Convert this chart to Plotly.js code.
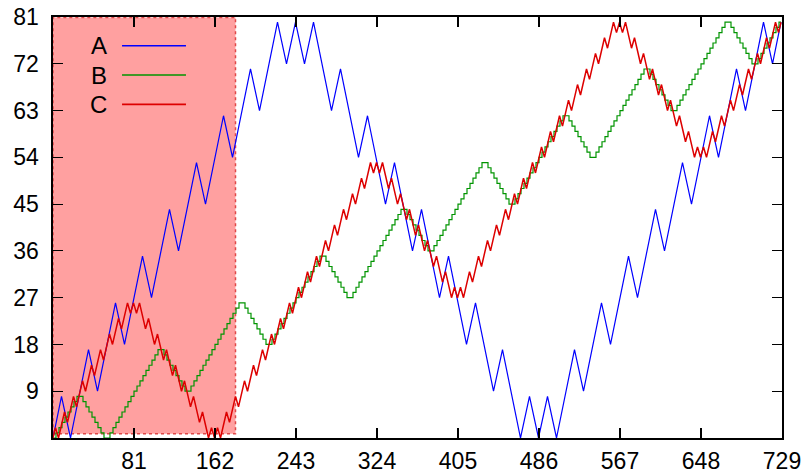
<!DOCTYPE html>
<html>
<head>
<meta charset="utf-8">
<script src="https://cdn.plot.ly/plotly-3.0.1.min.js"></script>
<style>html,body{margin:0;padding:0;background:#fff;}#chart{width:812px;height:474px;}</style>
</head>
<body>
<div id="chart"></div>
<script>
// ---- data ----
const seriesNames = ['A', 'B', 'C'];

// A: turning points
const A_x = [0, 8.5, 17.5, 35.5, 44.5, 62.5, 71.5, 89.5, 98.5, 116.5, 125.5, 143.5, 152.5, 170.5, 179.5, 197.5, 206.5, 224.5, 233.5, 242.5,
  251.5, 260.5, 278.5, 287.5, 305.5, 314.5, 332.5, 341.5, 359.5, 368.5, 386.5, 395.5, 413.5, 422.5, 440.5, 449.5, 467.5, 476.5, 485.5,
  494.5, 503.5, 521.5, 530.5, 548.5, 557.5, 575.5, 584.5, 602.5, 611.5, 629.5, 638.5, 656.5, 665.5, 683.5, 692.5, 710.5, 719.5, 728];
const A_y = [0, 8, 0, 17, 9, 26, 18, 35, 27, 44, 36, 53, 45, 62, 54, 71, 63, 80, 72, 80,
  72, 80, 63, 71, 54, 62, 45, 53, 36, 44, 27, 35, 18, 26, 9, 17, 0, 8, 0,
  8, 0, 17, 9, 26, 18, 35, 27, 44, 36, 53, 45, 62, 54, 71, 63, 80, 72, 80];

// B: staircase levels
const B_x = [0,3,6,9,12,15,18,21,24,27,30,33,36,39,42,45,48,51,54,57,60,63,66,69,72,75,78,
  81,84,87,90,93,96,99,102,105,108,111,114,117,120,123,126,129,132,135,138,141,144,147,150,153,156,159,
  162,165,168,171,174,177,180,183,186,189,192,195,198,201,204,207,210,213,216,219,222,225,228,231,234,237,240,
  243,246,249,252,255,258,261,264,267,270,273,276,279,282,285,288,291,294,297,300,303,306,309,312,315,318,321,
  324,327,330,333,336,339,342,345,348,351,354,357,360,363,366,369,372,375,378,381,384,387,390,393,396,399,402,
  405,408,411,414,417,420,423,426,429,432,435,438,441,444,447,450,453,456,459,462,465,468,471,474,477,480,483,
  486,489,492,495,498,501,504,507,510,513,516,519,522,525,528,531,534,537,540,543,546,549,552,555,558,561,564,
  567,570,573,576,579,582,585,588,591,594,597,600,603,606,609,612,615,618,621,624,627,630,633,636,639,642,645,
  648,651,654,657,660,663,666,669,672,675,678,681,684,687,690,693,696,699,702,705,708,711,714,717,720,723,726,
  728];
const B_y = [0,1,2,3,4,5,6,7,8, 8,7,6,5,4,3,2,1,0, 0,1,2,3,4,5,6,7,8,
  9,10,11,12,13,14,15,16,17, 17,16,15,14,13,12,11,10,9, 9,10,11,12,13,14,15,16,17,
  18,19,20,21,22,23,24,25,26, 26,25,24,23,22,21,20,19,18, 18,19,20,21,22,23,24,25,26,
  27,28,29,30,31,32,33,34,35, 35,34,33,32,31,30,29,28,27, 27,28,29,30,31,32,33,34,35,
  36,37,38,39,40,41,42,43,44, 44,43,42,41,40,39,38,37,36, 36,37,38,39,40,41,42,43,44,
  45,46,47,48,49,50,51,52,53, 53,52,51,50,49,48,47,46,45, 45,46,47,48,49,50,51,52,53,
  54,55,56,57,58,59,60,61,62, 62,61,60,59,58,57,56,55,54, 54,55,56,57,58,59,60,61,62,
  63,64,65,66,67,68,69,70,71, 71,70,69,68,67,66,65,64,63, 63,64,65,66,67,68,69,70,71,
  72,73,74,75,76,77,78,79,80, 80,79,78,77,76,75,74,73,72, 72,73,74,75,76,77,78,79,80,
  80];

// C: turning points of the wiggly line
const C_x = [0,
  2.5,5.5, 11.5,14.5, 20.5,23.5, 29.5,32.5, 38.5,41.5, 47.5,50.5, 56.5,59.5, 65.5,68.5, 74.5,77.5, 80.5,
  83.5,86.5, 92.5,95.5, 101.5,104.5, 110.5,113.5, 119.5,122.5, 128.5,131.5, 137.5,140.5, 146.5,149.5, 155.5,158.5, 161.5,
  164.5,167.5, 173.5,176.5, 182.5,185.5, 191.5,194.5, 200.5,203.5, 209.5,212.5, 218.5,221.5, 227.5,230.5, 236.5,239.5,
  245.5,248.5, 254.5,257.5, 263.5,266.5, 272.5,275.5, 281.5,284.5, 290.5,293.5, 299.5,302.5, 308.5,311.5, 317.5,320.5, 323.5,
  326.5,329.5, 335.5,338.5, 344.5,347.5, 353.5,356.5, 362.5,365.5, 371.5,374.5, 380.5,383.5, 389.5,392.5, 398.5,401.5, 404.5,
  407.5,410.5, 416.5,419.5, 425.5,428.5, 434.5,437.5, 443.5,446.5, 452.5,455.5, 461.5,464.5, 470.5,473.5, 479.5,482.5,
  488.5,491.5, 497.5,500.5, 506.5,509.5, 515.5,518.5, 524.5,527.5, 533.5,536.5, 542.5,545.5, 551.5,554.5, 560.5,563.5, 566.5,
  569.5,572.5, 578.5,581.5, 587.5,590.5, 596.5,599.5, 605.5,608.5, 614.5,617.5, 623.5,626.5, 632.5,635.5, 641.5,644.5, 647.5,
  650.5,653.5, 659.5,662.5, 668.5,671.5, 677.5,680.5, 686.5,689.5, 695.5,698.5, 704.5,707.5, 713.5,716.5, 722.5,725.5, 728];
const C_y = [0,
  2,0, 5,3, 8,6, 11,9, 14,12, 17,15, 20,18, 23,21, 26,24, 26,
  24,26, 21,23, 18,20, 15,17, 12,14, 9,11, 6,8, 3,5, 0,2, 0,
  2,0, 5,3, 8,6, 11,9, 14,12, 17,15, 20,18, 23,21, 26,24,
  29,27, 32,30, 35,33, 38,36, 41,39, 44,42, 47,45, 50,48, 53,51, 53,
  51,53, 48,50, 45,47, 42,44, 39,41, 36,38, 33,35, 30,32, 27,29, 27,
  29,27, 32,30, 35,33, 38,36, 41,39, 44,42, 47,45, 50,48, 53,51,
  56,54, 59,57, 62,60, 65,63, 68,66, 71,69, 74,72, 77,75, 80,78, 80,
  78,80, 75,77, 72,74, 69,71, 66,68, 63,65, 60,62, 57,59, 54,56, 54,
  56,54, 59,57, 62,60, 65,63, 68,66, 71,69, 74,72, 77,75, 80,78, 80];

const xTicks = [81, 162, 243, 324, 405, 486, 567, 648, 729];
const yTicks = [9, 18, 27, 36, 45, 54, 63, 72, 81];
const highlight = {x0: 0, x1: 182.5, y0: 0.8, y1: 80.9};

// ---- styling ----
const colors = ['#0000ff', '#009400', '#dd0000'];
const widths = [1.2, 1.2, 1.5];
const FONT = 'Liberation Sans, Arial, Helvetica, sans-serif';

const traces = [
  {x: A_x, y: A_y, mode: 'lines', line: {color: colors[0], width: widths[0]}, name: seriesNames[0], showlegend: false},
  {x: B_x, y: B_y, mode: 'lines', line: {color: colors[1], width: widths[1], shape: 'hv'}, name: seriesNames[1], showlegend: false},
  {x: C_x, y: C_y, mode: 'lines', line: {color: colors[2], width: widths[2]}, name: seriesNames[2], showlegend: false}
];

// custom gnuplot-style key (text left, sample right)
const keyRows = [0.9318, 0.8622, 0.7926];
const annotations = seriesNames.map((n, i) => ({
  xref: 'paper', yref: 'paper', x: 0.0765, y: keyRows[i], xanchor: 'right', yanchor: 'middle',
  text: n, showarrow: false, font: {family: FONT, size: 24, color: '#000'}
}));
const shapes = [
  {type: 'rect', xref: 'x', yref: 'y', x0: highlight.x0, x1: highlight.x1, y0: highlight.y0, y1: highlight.y1,
   fillcolor: '#ffa0a0', line: {color: '#e04848', width: 1.5, dash: 'dot'}, layer: 'below'}
].concat(seriesNames.map((n, i) => ({
  type: 'line', xref: 'paper', yref: 'paper', x0: 0.0947, x1: 0.1824, y0: keyRows[i], y1: keyRows[i],
  line: {color: colors[i], width: widths[i] + 0.3}
})));

const axisCommon = {
  showgrid: false, zeroline: false, showline: true, linecolor: '#000', linewidth: 1.6,
  mirror: 'ticks', ticks: 'inside', ticklen: 10, tickwidth: 1.2, tickcolor: '#000',
  tickfont: {family: FONT, size: 23, color: '#000'}, tickmode: 'array'
};

const layout = {
  width: 812, height: 474,
  margin: {l: 53, r: 30, t: 17, b: 36, autoexpand: false},
  paper_bgcolor: '#fff', plot_bgcolor: '#fff',
  xaxis: Object.assign({}, axisCommon, {range: [0, 729], tickvals: xTicks, ticktext: xTicks.map(String), ticklabelstandoff: 2}),
  yaxis: Object.assign({}, axisCommon, {range: [0, 81], tickvals: yTicks, ticktext: yTicks.map(String), ticklabelstandoff: 8}),
  shapes: shapes,
  annotations: annotations,
  showlegend: false
};

Plotly.newPlot('chart', traces, layout, {staticPlot: true, displayModeBar: false});
</script>
</body>
</html>
